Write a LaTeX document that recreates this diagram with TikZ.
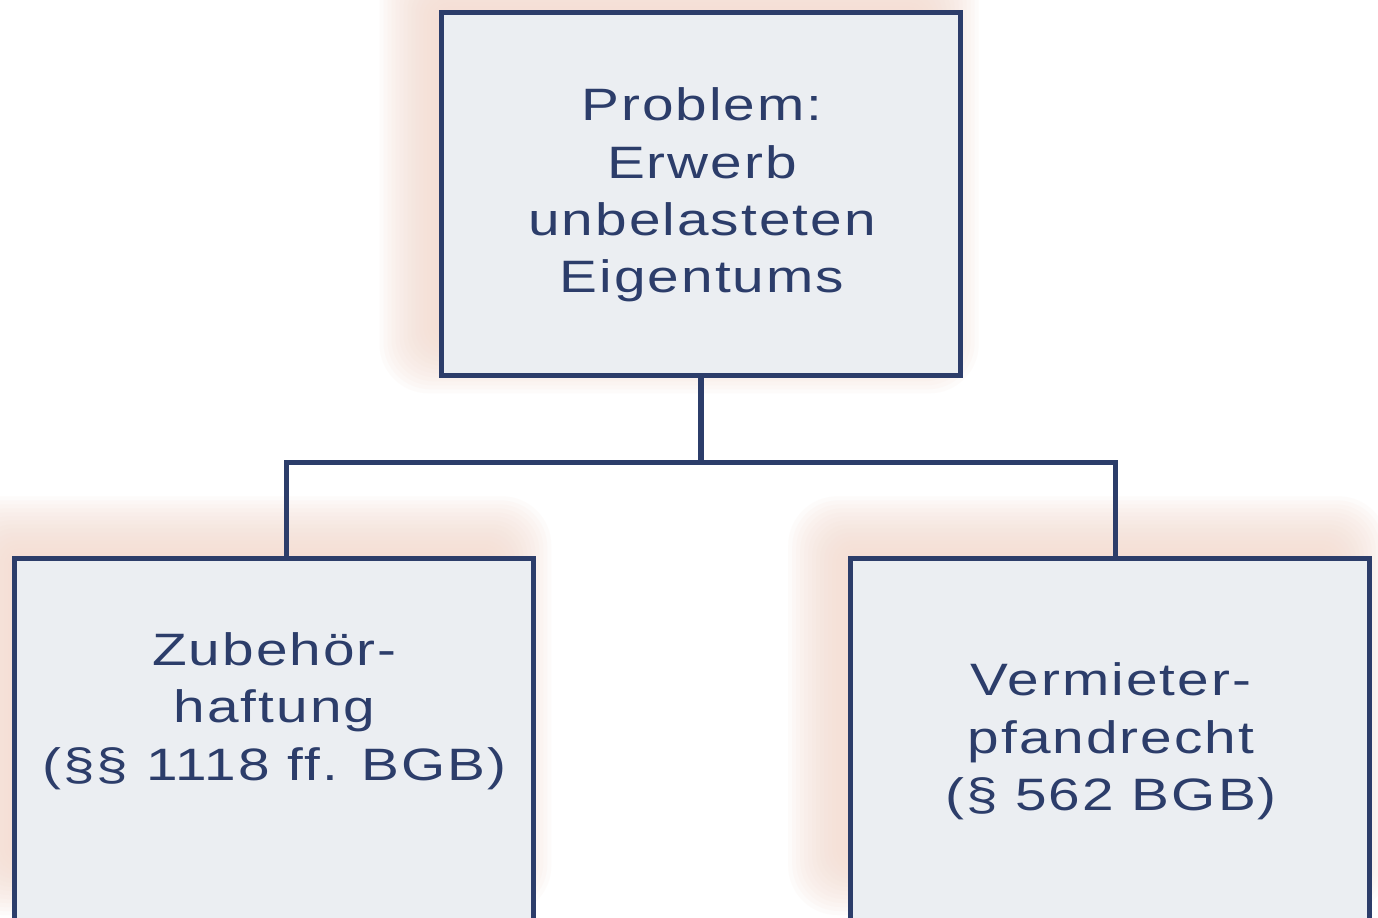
\documentclass[tikz,border=0pt]{standalone}
\usepackage{fontspec}
\newfontfamily\lblfont{Liberation Sans}[FakeStretch=1.25, LetterSpace=4.5]
\definecolor{navy}{HTML}{2C3D6A}
\definecolor{boxfill}{HTML}{EBEEF2}
\definecolor{glowc}{RGB}{245,220,208}
\tikzset{
  box/.style={draw=navy, fill=boxfill, line width=2.65pt, inner sep=0pt,
    minimum width=259.6pt},
  txt/.style={text=navy, align=center, inner sep=0pt, anchor=north,
    font=\lblfont\fontsize{22.7pt}{28.65pt}\selectfont},
  link/.style={draw=navy, line width=2.65pt, miter limit=10},
}
% soft peach glow: stacked translucent rectangles around a core rectangle
\newcommand\glowrect[4]{%
  \foreach \d in {40,36,...,-40}{%
    \pgfmathsetmacro\rr{(\d+42)*0.3}%
    \fill[glowc, opacity=0.1, rounded corners=\rr pt]
      ({#1-(\d)},{#2-(\d)}) rectangle ({#3+(\d)},{#4+(\d)});
  }}
\begin{document}
\begin{tikzpicture}[x=0.5pt, y=-0.5pt]
  \clip (0,0) rectangle (1378,917);
  \fill[white] (0,0) rectangle (1378,917);

  % glows, shifted up and to the left of each box
  \glowrect{419.5}{-9.3}{938.7}{353.3}
  \glowrect{-7.8}{536.3}{511.3}{875}
  \glowrect{828.2}{536.3}{1347.7}{875}

  % boxes
  \node[box, minimum height=181.3pt] (top) at (701.1,194) {};
  \node[box, minimum height=220.85pt] (lbox) at (273.75,779.15) {};
  \node[box, minimum height=220.85pt] (rbox) at (1109.95,779.15) {};

  % connectors
  \coordinate (lj) at (286.8,462.7);
  \coordinate (rj) at (1115.5,462.7);
  \draw[link] (top.south) -- (top.south |- lj);
  \draw[link] (lj |- lbox.north) -- (lj) -- (rj) -- (rj |- rbox.north);

  % labels
  \node[txt] (ttop) at (702,87.5) {Problem:\\Erwerb\\unbelasteten\\Eigentums};
  \node[txt] (tleft) at (274.5,632.2) {Zubehör-\\haftung\\(§§ 1118 ff. BGB)};
  \node[txt] (tright) at (1111,662.5) {Vermieter-\\pfandrecht\\(§ 562 BGB)};
\end{tikzpicture}
\end{document}
